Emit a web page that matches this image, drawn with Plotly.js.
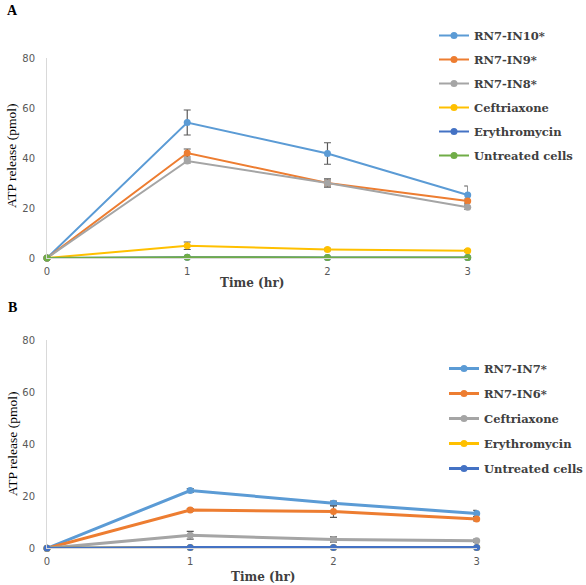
<!DOCTYPE html>
<html>
<head>
<meta charset="utf-8">
<script src="https://cdn.plot.ly/plotly-3.0.1.min.js"></script>
<style>html,body{margin:0;padding:0;background:#fff;}#chart{width:586px;height:585px;}</style>
</head>
<body>
<div id="chart"></div>
<script>
// ---- data ----
const timeHr = [0, 1, 2, 3];
const yTicks = [0, 20, 40, 60, 80];

// Panel A
const namesA = ["RN7-IN10*", "RN7-IN9*", "RN7-IN8*", "Ceftriaxone", "Erythromycin", "Untreated cells"];
const a_in10 = [0, 54.2, 41.8, 25.2];
const a_in10_err = [0, 5.0, 4.3, 3.6];
const a_in9 = [0, 42.0, 30.0, 22.8];
const a_in9_err = [0, 1.6, 1.2, 0.8];
const a_in8 = [0, 38.8, 30.0, 20.3];
const a_in8_err = [0, 0.8, 1.7, 0.8];
const a_ceft = [0, 4.9, 3.4, 2.9];
const a_ceft_err = [0, 1.5, 0.5, 0.5];
const a_ery = [0, 0.3, 0.2, 0.2];
const a_ery_err = [0, 0, 0, 0];
const a_untr = [0, 0.3, 0.2, 0.2];
const a_untr_err = [0, 0, 0, 0];

// Panel B
const namesB = ["RN7-IN7*", "RN7-IN6*", "Ceftriaxone", "Erythromycin", "Untreated cells"];
const b_in7 = [0, 22.2, 17.3, 13.4];
const b_in7_err = [0, 0.7, 0.8, 1.2];
const b_in6 = [0, 14.7, 14.1, 11.3];
const b_in6_err = [0, 0.5, 2.2, 0.8];
const b_ceft = [0, 5.0, 3.4, 2.9];
const b_ceft_err = [0, 1.5, 1.0, 0.6];
const b_ery = [0, 0.3, 0.3, 0.3];
const b_ery_err = [0, 0, 0, 0];
const b_untr = [0, 0.3, 0.3, 0.3];
const b_untr_err = [0, 0, 0, 0];

// ---- styles ----
const colorsA = ["#5B9BD5", "#ED7D31", "#A5A5A5", "#FFC000", "#4472C4", "#70AD47"];
const colorsB = ["#5B9BD5", "#ED7D31", "#A5A5A5", "#FFC000", "#4472C4"];

function mk(name, y, err, color, xa, ya, leg, lw, grp) {
  return {
    x: timeHr, y: y, name: name, type: "scatter", mode: "lines+markers",
    xaxis: xa, yaxis: ya, legend: leg, legendgroup: grp,
    line: {color: color, width: lw},
    marker: {color: color, size: 7, symbol: "circle"},
    error_y: {type: "data", array: err, visible: true, color: "#595959", thickness: 1.2, width: 3.5},
    cliponaxis: false, hoverinfo: "skip"
  };
}

const seriesA = [a_in10, a_in9, a_in8, a_ceft, a_ery, a_untr];
const errA = [a_in10_err, a_in9_err, a_in8_err, a_ceft_err, a_ery_err, a_untr_err];
const seriesB = [b_in7, b_in6, b_ceft, b_ery, b_untr];
const errB = [b_in7_err, b_in6_err, b_ceft_err, b_ery_err, b_untr_err];

const traces = [];
namesA.forEach((n, i) => traces.push(mk(n, seriesA[i], errA[i], colorsA[i], "x", "y", "legend", 2, "a" + i)));
namesB.forEach((n, i) => traces.push(mk(n, seriesB[i], errB[i], colorsB[i], "x2", "y2", "legend2", 3, "b" + i)));

const W = 586, H = 585;
const tickFont = {family: "DejaVu Sans, sans-serif", size: 10, color: "#595959"};
const serif = "Liberation Serif, Times New Roman, serif";
const wideSerif = "DejaVu Serif, serif";

function xax(domain, anchor) {
  return {domain: domain, anchor: anchor, range: [0, 3], tickvals: timeHr, ticktext: timeHr.map(String),
    showline: true, linecolor: "#d9d9d9", linewidth: 1, showgrid: false, zeroline: false,
    ticks: "", tickfont: tickFont, ticklabelstandoff: 4, fixedrange: true};
}
function yax(domain, anchor) {
  return {domain: domain, anchor: anchor, range: [0, 80], tickvals: yTicks,
    showline: true, linecolor: "#d9d9d9", linewidth: 1, showgrid: false, zeroline: false,
    ticks: "", tickfont: tickFont, ticklabelstandoff: 9, fixedrange: true};
}

const legFont = {family: wideSerif, size: 11.5, color: "#404040", weight: "bold"};

const layout = {
  width: W, height: H,
  margin: {l: 0, r: 0, t: 0, b: 0, autoexpand: false},
  paper_bgcolor: "#ffffff", plot_bgcolor: "#ffffff",
  showlegend: true,
  xaxis: xax([47 / W, 467.7 / W], "y"),
  yaxis: yax([(H - 258) / H, (H - 58) / H], "x"),
  xaxis2: xax([47 / W, 476.7 / W], "y2"),
  yaxis2: yax([(H - 548.3) / H, (H - 340) / H], "x2"),
  legend: {x: 434 / W, y: 1 - 21 / H, xanchor: "left", yanchor: "top", font: legFont,
    bgcolor: "rgba(0,0,0,0)", traceorder: "grouped", tracegroupgap: 5, itemwidth: 30},
  legend2: {x: 444 / W, y: 1 - 354 / H, xanchor: "left", yanchor: "top", font: legFont,
    bgcolor: "rgba(0,0,0,0)", traceorder: "grouped", tracegroupgap: 6, itemwidth: 30},
  annotations: [
    {text: "A", x: 12 / W, y: 1 - 10 / H, xref: "paper", yref: "paper", xanchor: "center", yanchor: "middle",
      showarrow: false, font: {family: serif, size: 14, color: "#000", weight: "bold"}},
    {text: "B", x: 12 / W, y: 1 - 307 / H, xref: "paper", yref: "paper", xanchor: "center", yanchor: "middle",
      showarrow: false, font: {family: serif, size: 14, color: "#000", weight: "bold"}},
    {text: "ATP release (pmol)", textangle: -90, x: 12 / W, y: 1 - 156 / H, xref: "paper", yref: "paper",
      xanchor: "center", yanchor: "middle", showarrow: false, font: {family: serif, size: 13.5, color: "#000"}},
    {text: "ATP release (pmol)", textangle: -90, x: 12 / W, y: 1 - 444 / H, xref: "paper", yref: "paper",
      xanchor: "center", yanchor: "middle", showarrow: false, font: {family: serif, size: 13.5, color: "#000"}},
    {text: "Time (hr)", x: 252 / W, y: 1 - 283 / H, xref: "paper", yref: "paper", xanchor: "center", yanchor: "middle",
      showarrow: false, font: {family: wideSerif, size: 12, color: "#404040", weight: "bold"}},
    {text: "Time (hr)", x: 263 / W, y: 1 - 577 / H, xref: "paper", yref: "paper", xanchor: "center", yanchor: "middle",
      showarrow: false, font: {family: wideSerif, size: 12, color: "#404040", weight: "bold"}}
  ]
};

Plotly.newPlot("chart", traces, layout, {staticPlot: true, displayModeBar: false});
</script>
</body>
</html>
